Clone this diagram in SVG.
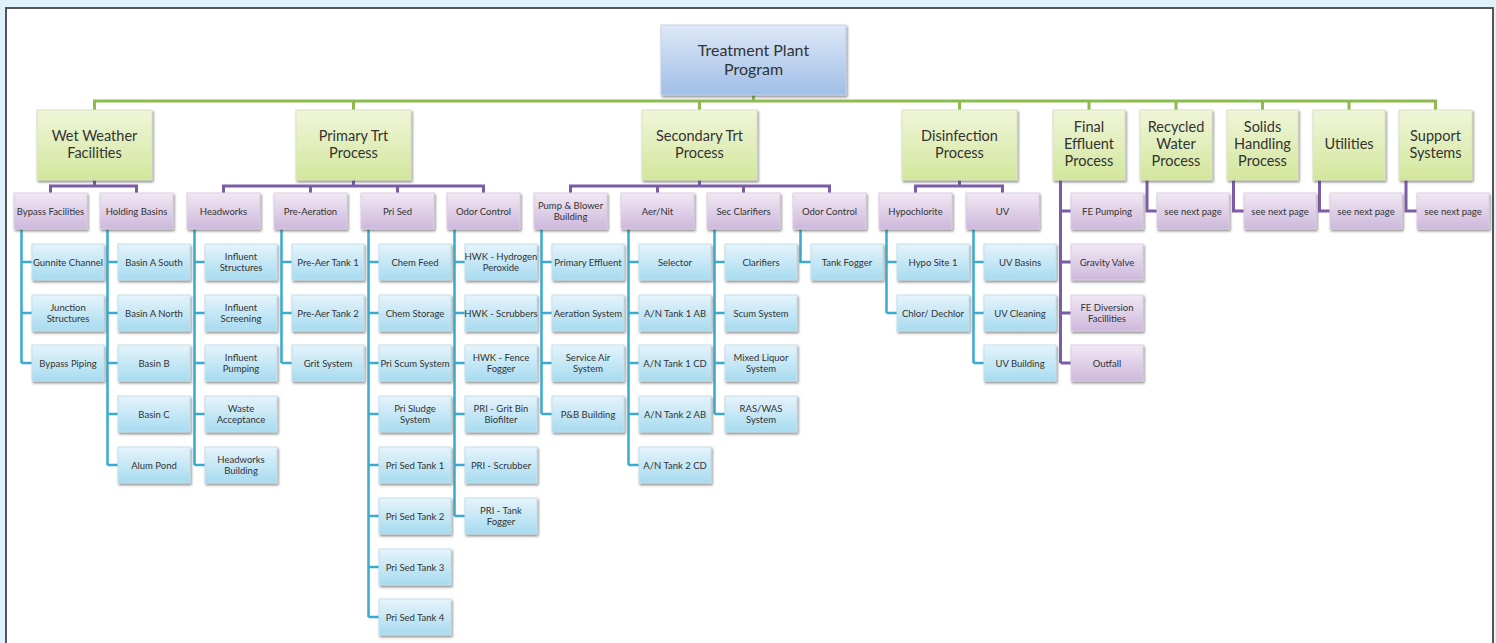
<svg xmlns="http://www.w3.org/2000/svg" width="1496" height="643" viewBox="0 0 1496 643">
<defs>
<linearGradient id="gRoot" x1="0" y1="0" x2="0" y2="1"><stop offset="0" stop-color="#dde8f7"/><stop offset="1" stop-color="#a0bee7"/></linearGradient>
<linearGradient id="gGreen" x1="0" y1="0" x2="0" y2="1"><stop offset="0" stop-color="#f0f6da"/><stop offset="1" stop-color="#d3e69c"/></linearGradient>
<linearGradient id="gPurple" x1="0" y1="0" x2="0" y2="1"><stop offset="0" stop-color="#f1e8f3"/><stop offset="1" stop-color="#cdb8dc"/></linearGradient>
<linearGradient id="gBlue" x1="0" y1="0" x2="0" y2="1"><stop offset="0" stop-color="#e6f4fb"/><stop offset="1" stop-color="#a6dbf0"/></linearGradient>
<filter id="sh" x="-10%" y="-10%" width="130%" height="140%"><feDropShadow dx="1.2" dy="1.8" stdDeviation="0.9" flood-color="#4a4a4a" flood-opacity="0.6"/></filter>
</defs>
<style>
.r{fill:url(#gRoot);stroke:#c7d3e3;stroke-width:1;filter:url(#sh)}
.g{fill:url(#gGreen);stroke:#d9e3c2;stroke-width:1;filter:url(#sh)}
.p{fill:url(#gPurple);stroke:#dcd0e2;stroke-width:1;filter:url(#sh)}
.b{fill:url(#gBlue);stroke:#c6dfe9;stroke-width:1;filter:url(#sh)}
text{font-family:Lato,"Liberation Sans",sans-serif;fill:#333;text-anchor:middle;dominant-baseline:central}
.t0{font-size:16px}
.t1{font-size:14.5px}
.t2{font-size:9.5px}
.cg{stroke:#8dbb4f;stroke-width:3;fill:none}
.cp{stroke:#7c5ca6;stroke-width:3;fill:none}
.cb{stroke:#38abcf;stroke-width:2.5;fill:none}
</style>
<rect x="0" y="0" width="1496" height="643" fill="#dff2fa"/>
<rect x="6" y="8" width="1487" height="645" fill="#fff" stroke="#555" stroke-width="2"/>

<g id="connectors">
<path class="cg" d="M753.5 95V101M94.5 110V101H1435.5V110M353.5 101V110M699.5 101V110M959.5 101V110M1089 101V110M1176 101V110M1262.5 101V110M1349 101V110"/>
<path class="cp" d="M94.5 180V186M50.5 193V186H136.5V193"/>
<path class="cp" d="M353.5 180V186M223.5 193V186H483.5V193M310.5 186V193M397.5 186V193"/>
<path class="cp" d="M699.5 180V186M570.5 193V186H829.5V193M657.5 186V193M743.5 186V193"/>
<path class="cp" d="M959.5 180V186M915.5 193V186H1002.5V193"/>
<path class="cp" d="M1060.5 180V363M1060.5 211H1071M1060.5 262H1071M1060.5 313H1071M1060.5 363H1071"/>
<path class="cp" d="M1147 180V211H1157M1233.5 180V211H1244M1319.5 180V211H1330M1406 180V211H1417"/>
<path class="cb" d="M21.5 229V363M21.5 262H32M21.5 313H32M21.5 363H32"/>
<path class="cb" d="M107.5 229V465M107.5 262H118M107.5 313H118M107.5 363H118M107.5 414H118M107.5 465H118"/>
<path class="cb" d="M194.5 229V465M194.5 262H205M194.5 313H205M194.5 363H205M194.5 414H205M194.5 465H205"/>
<path class="cb" d="M281.5 229V363M281.5 262H292M281.5 313H292M281.5 363H292"/>
<path class="cb" d="M368.5 229V617M368.5 262H379M368.5 313H379M368.5 363H379M368.5 414H379M368.5 465H379M368.5 516H379M368.5 567H379M368.5 617H379"/>
<path class="cb" d="M454.5 229V516M454.5 262H465M454.5 313H465M454.5 363H465M454.5 414H465M454.5 465H465M454.5 516H465"/>
<path class="cb" d="M541.5 229V414M541.5 262H552M541.5 313H552M541.5 363H552M541.5 414H552"/>
<path class="cb" d="M628.5 229V465M628.5 262H639M628.5 313H639M628.5 363H639M628.5 414H639M628.5 465H639"/>
<path class="cb" d="M714.5 229V414M714.5 262H725M714.5 313H725M714.5 363H725M714.5 414H725"/>
<path class="cb" d="M800.5 229V262H811"/>
<path class="cb" d="M886.5 229V313M886.5 262H897M886.5 313H897"/>
<path class="cb" d="M973.5 229V363M973.5 262H984M973.5 313H984M973.5 363H984"/>
</g>

<g id="root"><rect class="r" x="661" y="25" width="185" height="70"/><text class="t0" x="753.5" y="49">Treatment Plant</text><text class="t0" x="753.5" y="68">Program</text></g>

<g id="wet-weather"><rect class="g" x="37" y="110" width="115" height="70"/><text class="t1" x="94.5" y="135">Wet Weather</text><text class="t1" x="94.5" y="152">Facilities</text></g>
<g id="primary"><rect class="g" x="296" y="110" width="115" height="70"/><text class="t1" x="353.5" y="135">Primary Trt</text><text class="t1" x="353.5" y="152">Process</text></g>
<g id="secondary"><rect class="g" x="642" y="110" width="115" height="70"/><text class="t1" x="699.5" y="135">Secondary Trt</text><text class="t1" x="699.5" y="152">Process</text></g>
<g id="disinfection"><rect class="g" x="902" y="110" width="115" height="70"/><text class="t1" x="959.5" y="135">Disinfection</text><text class="t1" x="959.5" y="152">Process</text></g>
<g id="final-effluent"><rect class="g" x="1053" y="110" width="72" height="70"/><text class="t1" x="1089" y="126">Final</text><text class="t1" x="1089" y="143">Effluent</text><text class="t1" x="1089" y="160">Process</text></g>
<g id="recycled"><rect class="g" x="1140" y="110" width="72" height="70"/><text class="t1" x="1176" y="126">Recycled</text><text class="t1" x="1176" y="143">Water</text><text class="t1" x="1176" y="160">Process</text></g>
<g id="solids"><rect class="g" x="1227" y="110" width="71" height="70"/><text class="t1" x="1262.5" y="126">Solids</text><text class="t1" x="1262.5" y="143">Handling</text><text class="t1" x="1262.5" y="160">Process</text></g>
<g id="utilities"><rect class="g" x="1313" y="110" width="72" height="70"/><text class="t1" x="1349" y="143">Utilities</text></g>
<g id="support"><rect class="g" x="1399" y="110" width="73" height="70"/><text class="t1" x="1435.5" y="135">Support</text><text class="t1" x="1435.5" y="152">Systems</text></g>

<g id="bypass-facilities"><rect class="p" x="14" y="193" width="73" height="36"/><text class="t2" x="50.5" y="211">Bypass Facilities</text></g>
<g id="holding-basins"><rect class="p" x="100" y="193" width="73" height="36"/><text class="t2" x="136.5" y="211">Holding Basins</text></g>
<g id="headworks"><rect class="p" x="187" y="193" width="73" height="36"/><text class="t2" x="223.5" y="211">Headworks</text></g>
<g id="pre-aeration"><rect class="p" x="274" y="193" width="73" height="36"/><text class="t2" x="310.5" y="211">Pre-Aeration</text></g>
<g id="pri-sed"><rect class="p" x="361" y="193" width="73" height="36"/><text class="t2" x="397.5" y="211">Pri Sed</text></g>
<g id="odor-control-1"><rect class="p" x="447" y="193" width="73" height="36"/><text class="t2" x="483.5" y="211">Odor Control</text></g>
<g id="pump-blower"><rect class="p" x="534" y="193" width="73" height="36"/><text class="t2" x="570.5" y="205.5">Pump &amp; Blower</text><text class="t2" x="570.5" y="216.5">Building</text></g>
<g id="aer-nit"><rect class="p" x="621" y="193" width="73" height="36"/><text class="t2" x="657.5" y="211">Aer/Nit</text></g>
<g id="sec-clarifiers"><rect class="p" x="707" y="193" width="73" height="36"/><text class="t2" x="743.5" y="211">Sec Clarifiers</text></g>
<g id="odor-control-2"><rect class="p" x="793" y="193" width="73" height="36"/><text class="t2" x="829.5" y="211">Odor Control</text></g>
<g id="hypochlorite"><rect class="p" x="879" y="193" width="73" height="36"/><text class="t2" x="915.5" y="211">Hypochlorite</text></g>
<g id="uv"><rect class="p" x="966" y="193" width="73" height="36"/><text class="t2" x="1002.5" y="211">UV</text></g>

<g id="fe-pumping"><rect class="p" x="1071" y="193" width="72" height="36"/><text class="t2" x="1107" y="211">FE Pumping</text></g>
<g id="gravity-valve"><rect class="p" x="1071" y="244" width="72" height="36"/><text class="t2" x="1107" y="262">Gravity Valve</text></g>
<g id="fe-diversion"><rect class="p" x="1071" y="295" width="72" height="36"/><text class="t2" x="1107" y="307">FE Diversion</text><text class="t2" x="1107" y="318.5">Facillities</text></g>
<g id="outfall"><rect class="p" x="1071" y="345" width="72" height="36"/><text class="t2" x="1107" y="363">Outfall</text></g>
<g id="rw-next"><rect class="p" x="1157" y="193" width="72" height="36"/><text class="t2" x="1193" y="211">see next page</text></g>
<g id="sh-next"><rect class="p" x="1244" y="193" width="72" height="36"/><text class="t2" x="1280" y="211">see next page</text></g>
<g id="ut-next"><rect class="p" x="1330" y="193" width="72" height="36"/><text class="t2" x="1366" y="211">see next page</text></g>
<g id="ss-next"><rect class="p" x="1417" y="193" width="72" height="36"/><text class="t2" x="1453" y="211">see next page</text></g>

<g id="gunnite-channel"><rect class="b" x="32" y="244" width="72" height="36"/><text class="t2" x="68" y="262">Gunnite Channel</text></g>
<g id="junction-structures"><rect class="b" x="32" y="295" width="72" height="36"/><text class="t2" x="68" y="307">Junction</text><text class="t2" x="68" y="318.5">Structures</text></g>
<g id="bypass-piping"><rect class="b" x="32" y="345" width="72" height="36"/><text class="t2" x="68" y="363">Bypass Piping</text></g>

<g id="basin-a-south"><rect class="b" x="118" y="244" width="72" height="36"/><text class="t2" x="154" y="262">Basin A South</text></g>
<g id="basin-a-north"><rect class="b" x="118" y="295" width="72" height="36"/><text class="t2" x="154" y="313">Basin A North</text></g>
<g id="basin-b"><rect class="b" x="118" y="345" width="72" height="36"/><text class="t2" x="154" y="363">Basin B</text></g>
<g id="basin-c"><rect class="b" x="118" y="396" width="72" height="36"/><text class="t2" x="154" y="414">Basin C</text></g>
<g id="alum-pond"><rect class="b" x="118" y="447" width="72" height="36"/><text class="t2" x="154" y="465">Alum Pond</text></g>

<g id="influent-structures"><rect class="b" x="205" y="244" width="72" height="36"/><text class="t2" x="241" y="256">Influent</text><text class="t2" x="241" y="267.5">Structures</text></g>
<g id="influent-screening"><rect class="b" x="205" y="295" width="72" height="36"/><text class="t2" x="241" y="307">Influent</text><text class="t2" x="241" y="318.5">Screening</text></g>
<g id="influent-pumping"><rect class="b" x="205" y="345" width="72" height="36"/><text class="t2" x="241" y="357">Influent</text><text class="t2" x="241" y="368.5">Pumping</text></g>
<g id="waste-acceptance"><rect class="b" x="205" y="396" width="72" height="36"/><text class="t2" x="241" y="408">Waste</text><text class="t2" x="241" y="419.5">Acceptance</text></g>
<g id="headworks-building"><rect class="b" x="205" y="447" width="72" height="36"/><text class="t2" x="241" y="459">Headworks</text><text class="t2" x="241" y="470.5">Building</text></g>

<g id="pre-aer-tank-1"><rect class="b" x="292" y="244" width="72" height="36"/><text class="t2" x="328" y="262">Pre-Aer Tank 1</text></g>
<g id="pre-aer-tank-2"><rect class="b" x="292" y="295" width="72" height="36"/><text class="t2" x="328" y="313">Pre-Aer Tank 2</text></g>
<g id="grit-system"><rect class="b" x="292" y="345" width="72" height="36"/><text class="t2" x="328" y="363">Grit System</text></g>

<g id="chem-feed"><rect class="b" x="379" y="244" width="72" height="36"/><text class="t2" x="415" y="262">Chem Feed</text></g>
<g id="chem-storage"><rect class="b" x="379" y="295" width="72" height="36"/><text class="t2" x="415" y="313">Chem Storage</text></g>
<g id="pri-scum-system"><rect class="b" x="379" y="345" width="72" height="36"/><text class="t2" x="415" y="363">Pri Scum System</text></g>
<g id="pri-sludge-system"><rect class="b" x="379" y="396" width="72" height="36"/><text class="t2" x="415" y="408">Pri Sludge</text><text class="t2" x="415" y="419.5">System</text></g>
<g id="pri-sed-tank-1"><rect class="b" x="379" y="447" width="72" height="36"/><text class="t2" x="415" y="465">Pri Sed Tank 1</text></g>
<g id="pri-sed-tank-2"><rect class="b" x="379" y="498" width="72" height="36"/><text class="t2" x="415" y="516">Pri Sed Tank 2</text></g>
<g id="pri-sed-tank-3"><rect class="b" x="379" y="549" width="72" height="36"/><text class="t2" x="415" y="567">Pri Sed Tank 3</text></g>
<g id="pri-sed-tank-4"><rect class="b" x="379" y="599" width="72" height="36"/><text class="t2" x="415" y="617">Pri Sed Tank 4</text></g>

<g id="hwk-hydrogen-peroxide"><rect class="b" x="465" y="244" width="72" height="36"/><text class="t2" x="501" y="256">HWK - Hydrogen</text><text class="t2" x="501" y="267.5">Peroxide</text></g>
<g id="hwk-scrubbers"><rect class="b" x="465" y="295" width="72" height="36"/><text class="t2" x="501" y="313">HWK - Scrubbers</text></g>
<g id="hwk-fence-fogger"><rect class="b" x="465" y="345" width="72" height="36"/><text class="t2" x="501" y="357">HWK - Fence</text><text class="t2" x="501" y="368.5">Fogger</text></g>
<g id="pri-grit-bin-biofilter"><rect class="b" x="465" y="396" width="72" height="36"/><text class="t2" x="501" y="408">PRI - Grit Bin</text><text class="t2" x="501" y="419.5">Biofilter</text></g>
<g id="pri-scrubber"><rect class="b" x="465" y="447" width="72" height="36"/><text class="t2" x="501" y="465">PRI - Scrubber</text></g>
<g id="pri-tank-fogger"><rect class="b" x="465" y="498" width="72" height="36"/><text class="t2" x="501" y="510">PRI - Tank</text><text class="t2" x="501" y="521.5">Fogger</text></g>

<g id="primary-effluent"><rect class="b" x="552" y="244" width="72" height="36"/><text class="t2" x="588" y="262">Primary Effluent</text></g>
<g id="aeration-system"><rect class="b" x="552" y="295" width="72" height="36"/><text class="t2" x="588" y="313">Aeration System</text></g>
<g id="service-air-system"><rect class="b" x="552" y="345" width="72" height="36"/><text class="t2" x="588" y="357">Service Air</text><text class="t2" x="588" y="368.5">System</text></g>
<g id="pb-building"><rect class="b" x="552" y="396" width="72" height="36"/><text class="t2" x="588" y="414">P&amp;B Building</text></g>

<g id="selector"><rect class="b" x="639" y="244" width="72" height="36"/><text class="t2" x="675" y="262">Selector</text></g>
<g id="an-tank-1ab"><rect class="b" x="639" y="295" width="72" height="36"/><text class="t2" x="675" y="313">A/N Tank 1 AB</text></g>
<g id="an-tank-1cd"><rect class="b" x="639" y="345" width="72" height="36"/><text class="t2" x="675" y="363">A/N Tank 1 CD</text></g>
<g id="an-tank-2ab"><rect class="b" x="639" y="396" width="72" height="36"/><text class="t2" x="675" y="414">A/N Tank 2 AB</text></g>
<g id="an-tank-2cd"><rect class="b" x="639" y="447" width="72" height="36"/><text class="t2" x="675" y="465">A/N Tank 2 CD</text></g>

<g id="clarifiers"><rect class="b" x="725" y="244" width="72" height="36"/><text class="t2" x="761" y="262">Clarifiers</text></g>
<g id="scum-system"><rect class="b" x="725" y="295" width="72" height="36"/><text class="t2" x="761" y="313">Scum System</text></g>
<g id="mixed-liquor-system"><rect class="b" x="725" y="345" width="72" height="36"/><text class="t2" x="761" y="357">Mixed Liquor</text><text class="t2" x="761" y="368.5">System</text></g>
<g id="ras-was-system"><rect class="b" x="725" y="396" width="72" height="36"/><text class="t2" x="761" y="408">RAS/WAS</text><text class="t2" x="761" y="419.5">System</text></g>

<g id="tank-fogger"><rect class="b" x="811" y="244" width="72" height="36"/><text class="t2" x="847" y="262">Tank Fogger</text></g>

<g id="hypo-site-1"><rect class="b" x="897" y="244" width="72" height="36"/><text class="t2" x="933" y="262">Hypo Site 1</text></g>
<g id="chlor-dechlor"><rect class="b" x="897" y="295" width="72" height="36"/><text class="t2" x="933" y="313">Chlor/ Dechlor</text></g>

<g id="uv-basins"><rect class="b" x="984" y="244" width="72" height="36"/><text class="t2" x="1020" y="262">UV Basins</text></g>
<g id="uv-cleaning"><rect class="b" x="984" y="295" width="72" height="36"/><text class="t2" x="1020" y="313">UV Cleaning</text></g>
<g id="uv-building"><rect class="b" x="984" y="345" width="72" height="36"/><text class="t2" x="1020" y="363">UV Building</text></g>
</svg>
